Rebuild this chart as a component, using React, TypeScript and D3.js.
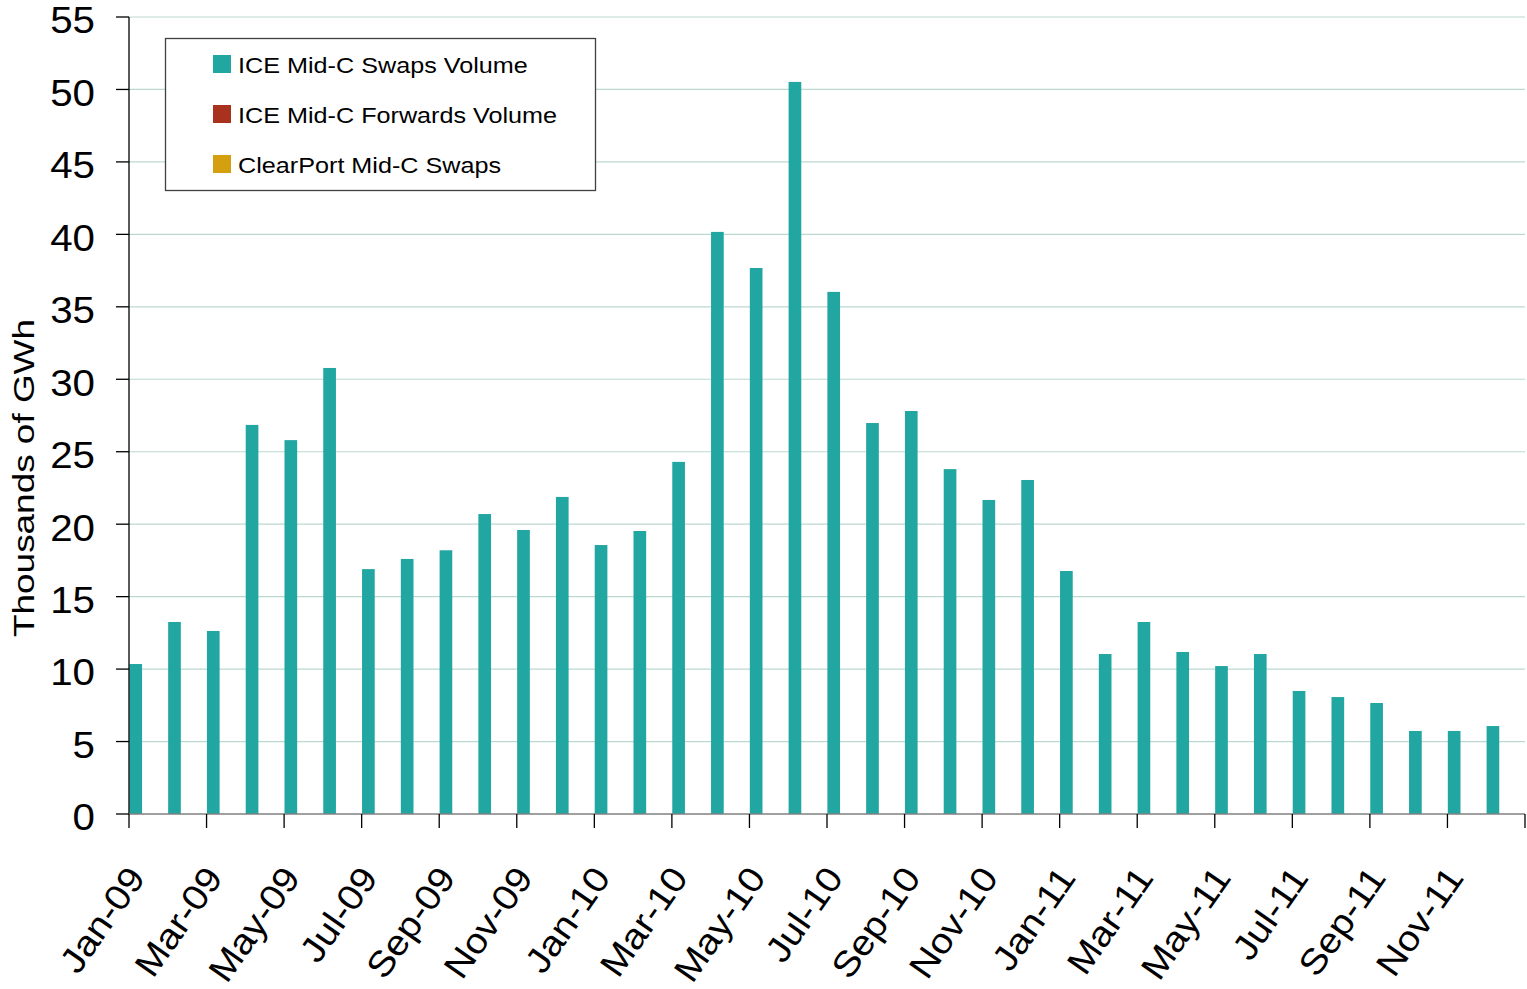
import { useEffect, useRef } from "react"
import * as d3 from "d3"

const MONTHS = [
  "Jan-09", "Feb-09", "Mar-09", "Apr-09", "May-09", "Jun-09", "Jul-09", "Aug-09", "Sep-09", "Oct-09", "Nov-09", "Dec-09",
  "Jan-10", "Feb-10", "Mar-10", "Apr-10", "May-10", "Jun-10", "Jul-10", "Aug-10", "Sep-10", "Oct-10", "Nov-10", "Dec-10",
  "Jan-11", "Feb-11", "Mar-11", "Apr-11", "May-11", "Jun-11", "Jul-11", "Aug-11", "Sep-11", "Oct-11", "Nov-11", "Dec-11",
]

const ICE_SWAPS = [
  10.35, 13.25, 12.63, 26.85, 25.8, 30.78, 16.9, 17.6, 18.2, 20.7, 19.6, 21.88,
  18.56, 19.53, 24.3, 40.17, 37.68, 50.52, 36.03, 26.98, 27.81, 23.8, 21.67, 23.05,
  16.77, 11.04, 13.25, 11.18, 10.21, 11.04, 8.49, 8.07, 7.66, 5.73, 5.73, 6.07,
]
const ICE_FORWARDS = MONTHS.map(() => 0)
const CLEARPORT = MONTHS.map(() => 0)

const SERIES = ["ICE Mid-C Swaps Volume", "ICE Mid-C Forwards Volume", "ClearPort Mid-C Swaps"]
const SERIES_COLORS = ["#22a6a2", "#a8321e", "#d4a010"]
const Y_TICKS = [0, 5, 10, 15, 20, 25, 30, 35, 40, 45, 50, 55]

const W = 1527
const H = 989
const FONT = "'Liberation Sans', Arial, sans-serif"

export default function App() {
  const svgRef = useRef<SVGSVGElement>(null)

  useEffect(() => {
    if (!svgRef.current) return
    const svg = d3.select(svgRef.current)
    svg.selectAll("*").remove()

    const left = 129, right = 1525, top = 17, bottom = 814

    const x = d3.scaleBand<string>().domain(MONTHS).range([left, right]).padding(0)
    const x1 = d3.scaleBand<number>().domain([0, 1, 2]).range([0, x.bandwidth()]).paddingInner(0).paddingOuter(0.03)
    const y = d3.scaleLinear().domain([0, 55]).range([bottom, top])

    // gridlines
    svg.append("g")
      .selectAll("line")
      .data(Y_TICKS.filter((t) => t > 0))
      .join("line")
      .attr("x1", left).attr("x2", right)
      .attr("y1", (d) => y(d)).attr("y2", (d) => y(d))
      .attr("stroke", "#bcd9d1").attr("stroke-width", 1.2)

    // bars
    const allSeries = [ICE_SWAPS, ICE_FORWARDS, CLEARPORT]
    allSeries.forEach((vals, si) => {
      svg.append("g")
        .selectAll("rect")
        .data(vals)
        .join("rect")
        .attr("x", (_, i) => (x(MONTHS[i]) ?? 0) + (x1(si) ?? 0))
        .attr("width", x1.bandwidth())
        .attr("y", (d) => y(d))
        .attr("height", (d) => bottom - y(d))
        .attr("fill", SERIES_COLORS[si])
    })

    // y axis
    const ya = svg.append("g")
    ya.append("line").attr("x1", left).attr("x2", left).attr("y1", top).attr("y2", bottom).attr("stroke", "#000").attr("stroke-width", 1.3)
    ya.selectAll("line.tk").data(Y_TICKS).join("line").attr("class", "tk")
      .attr("x1", left - 13).attr("x2", left).attr("y1", (d) => y(d)).attr("y2", (d) => y(d))
      .attr("stroke", "#000").attr("stroke-width", 1.3)
    ya.selectAll("text").data(Y_TICKS).join("text")
      .attr("transform", (d) => `translate(95,${y(d) + 3}) scale(1.09,1)`)
      .attr("dy", "0.36em")
      .attr("text-anchor", "end").attr("font-family", FONT).attr("font-size", 37).attr("fill", "#000")
      .text((d) => d)

    // x axis
    const xa = svg.append("g")
    xa.append("line").attr("x1", left).attr("x2", right).attr("y1", bottom).attr("y2", bottom).attr("stroke", "#808080").attr("stroke-width", 1.5)
    const tickIdx = d3.range(0, MONTHS.length + 1, 2)
    xa.selectAll("line.tk").data(tickIdx).join("line").attr("class", "tk")
      .attr("x1", (i) => left + i * x.step()).attr("x2", (i) => left + i * x.step())
      .attr("y1", bottom).attr("y2", bottom + 14)
      .attr("stroke", "#000").attr("stroke-width", 1.3)
    xa.selectAll("text").data(MONTHS.filter((_, i) => i % 2 === 0)).join("text")
      .attr("transform", (d) => `translate(${(x(d) ?? 0) + x.bandwidth() / 2 - 2},878) rotate(-55) scale(1.1,1)`)
      .attr("text-anchor", "end").attr("font-family", FONT).attr("font-size", 35.5).attr("fill", "#000")
      .text((d) => d)

    // y title
    svg.append("text")
      .attr("transform", `translate(34,${478}) rotate(-90)`)
      .attr("text-anchor", "middle").attr("font-family", FONT).attr("font-size", 30).attr("fill", "#000")
      .attr("textLength", 318).attr("lengthAdjust", "spacingAndGlyphs")
      .text("Thousands of GWh")

    // legend
    const lg = svg.append("g")
    lg.append("rect").attr("x", 165.5).attr("y", 38.5).attr("width", 430).attr("height", 152)
      .attr("fill", "#fff").attr("stroke", "#404040").attr("stroke-width", 1.3)
    SERIES.forEach((s, i) => {
      const cy = 64 + i * 50
      lg.append("rect").attr("x", 213).attr("y", cy - 9).attr("width", 18).attr("height", 18).attr("fill", SERIES_COLORS[i])
      lg.append("text").attr("transform", `translate(238,${cy + 1}) scale(1.12,1)`).attr("dy", "0.36em")
        .attr("font-family", FONT).attr("font-size", 22.5).attr("fill", "#000").text(s)
    })
  }, [])

  return (
    <svg ref={svgRef} width={W} height={H} style={{ position: "absolute", left: 0, top: 0, background: "#fff" }} />
  )
}
